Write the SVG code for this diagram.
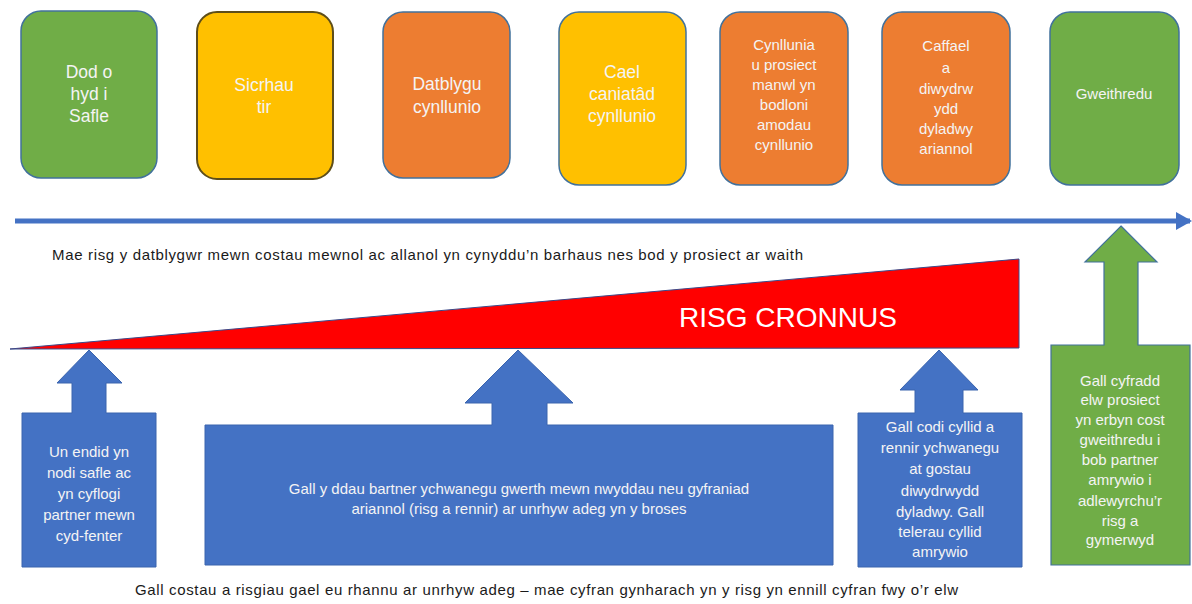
<svg xmlns="http://www.w3.org/2000/svg" width="1192" height="604" viewBox="0 0 1192 604">
<defs>
<style>
.box{stroke:#41719C;stroke-width:1.5}
.g{fill:#70AD47}
.y{fill:#FFC000}
.o{fill:#ED7D31}
.b{fill:#4472C4;stroke:#3A64AE;stroke-width:1}
.gs{fill:#70AD47;stroke:#41719C;stroke-width:1.2}
.t{font-family:"Liberation Sans",Arial,sans-serif;fill:#F4F4F4;text-anchor:middle}
.t17{font-size:17.5px}
.t15{font-size:15px}
.k{font-family:"Liberation Sans",Arial,sans-serif;fill:#1a1a1a;font-size:15px}
</style>
<marker id="ah" markerWidth="16" markerHeight="18" refX="14" refY="9" orient="auto" markerUnits="userSpaceOnUse" viewBox="0 0 16 18">
<path d="M0,0 L16,9 L0,18 z" fill="#4472C4"/>
</marker>
</defs>
<rect width="1192" height="604" fill="#ffffff"/>

<g id="step1">
<rect class="box g" x="21" y="11" width="136" height="167" rx="20"/>
<text class="t t17" x="89" y="78">Dod o</text>
<text class="t t17" x="89" y="100">hyd i</text>
<text class="t t17" x="89" y="122">Safle</text>
</g>
<g id="step2">
<rect class="y" x="197" y="12" width="136" height="167" rx="20" stroke="#5E4E1A" stroke-width="2"/>
<text class="t t17" x="264" y="91">Sicrhau</text>
<text class="t t17" x="264" y="113">tir</text>
</g>
<g id="step3">
<rect class="box o" x="383" y="12" width="127" height="166" rx="20"/>
<text class="t t17" x="447" y="90">Datblygu</text>
<text class="t t17" x="447" y="113">cynllunio</text>
</g>
<g id="step4">
<rect class="box y" x="559" y="12" width="127" height="173" rx="20"/>
<text class="t t17" x="622" y="78">Cael</text>
<text class="t t17" x="622" y="100">caniatâd</text>
<text class="t t17" x="622" y="122">cynllunio</text>
</g>
<g id="step5">
<rect class="box o" x="720" y="12" width="128" height="173" rx="20"/>
<text class="t t15" x="784" y="50">Cynllunia</text>
<text class="t t15" x="784" y="70">u prosiect</text>
<text class="t t15" x="784" y="90">manwl yn</text>
<text class="t t15" x="784" y="110">bodloni</text>
<text class="t t15" x="784" y="130">amodau</text>
<text class="t t15" x="784" y="150">cynllunio</text>
</g>
<g id="step6">
<rect class="box o" x="882" y="12" width="128" height="173" rx="20"/>
<text class="t t15" x="946" y="51">Caffael</text>
<text class="t t15" x="946" y="73">a</text>
<text class="t t15" x="946" y="94">diwydrw</text>
<text class="t t15" x="946" y="114">ydd</text>
<text class="t t15" x="946" y="134">dyladwy</text>
<text class="t t15" x="946" y="154">ariannol</text>
</g>
<g id="step7">
<rect class="box g" x="1050" y="12" width="129" height="173" rx="20"/>
<text class="t t15" x="1114" y="99">Gweithredu</text>
</g>

<g id="connectors">
<line x1="15" y1="221" x2="1190" y2="221" stroke="#4472C4" stroke-width="5" marker-end="url(#ah)"/>
</g>

<g id="risk-wedge">
<polygon points="10,349 1019,259 1019,348" fill="#FF0000" stroke="#3A4A8A" stroke-width="1"/>
<text x="788" y="327" font-family="'Liberation Sans',Arial,sans-serif" font-size="28" fill="#ffffff" text-anchor="middle">RISG CRONNUS</text>
</g>

<g id="caption-top">
<text class="k" x="52" y="260" textLength="751" lengthAdjust="spacing">Mae risg y datblygwr mewn costau mewnol ac allanol yn cynyddu’n barhaus nes bod y prosiect ar waith</text>
</g>

<g id="callout1">
<path class="b" d="M89,350 L122,383 L106,383 L106,413 L156,413 L156,567 L22,567 L22,413 L72,413 L72,383 L57,383 Z"/>
<text class="t t15" x="89" y="457">Un endid yn</text>
<text class="t t15" x="89" y="478">nodi safle ac</text>
<text class="t t15" x="89" y="499">yn cyflogi</text>
<text class="t t15" x="89" y="520">partner mewn</text>
<text class="t t15" x="89" y="541">cyd-fenter</text>
</g>

<g id="callout2">
<path class="b" d="M518,350 L573,403 L547,403 L547,425 L833,425 L833,565 L205,565 L205,425 L492,425 L492,403 L465,403 Z"/>
<text class="t t15" x="519" y="494">Gall y ddau bartner ychwanegu gwerth mewn nwyddau neu gyfraniad</text>
<text class="t t15" x="519" y="514">ariannol (risg a rennir) ar unrhyw adeg yn y broses</text>
</g>

<g id="callout3">
<path class="b" d="M939,350 L978,390 L963,390 L963,413 L1022,413 L1022,567 L858,567 L858,413 L915,413 L915,390 L900,390 Z"/>
<text class="t t15" x="940" y="432">Gall codi cyllid a</text>
<text class="t t15" x="940" y="453">rennir ychwanegu</text>
<text class="t t15" x="940" y="474">at gostau</text>
<text class="t t15" x="940" y="496">diwydrwydd</text>
<text class="t t15" x="940" y="517">dyladwy. Gall</text>
<text class="t t15" x="940" y="537">telerau cyllid</text>
<text class="t t15" x="940" y="557">amrywio</text>
</g>

<g id="callout4">
<path class="gs" d="M1121,226 L1157,262 L1138,262 L1138,345 L1190,345 L1190,565 L1051,565 L1051,345 L1104,345 L1104,262 L1085,262 Z"/>
<text class="t t15" x="1120" y="386">Gall cyfradd</text>
<text class="t t15" x="1120" y="405">elw prosiect</text>
<text class="t t15" x="1120" y="425">yn erbyn cost</text>
<text class="t t15" x="1120" y="445">gweithredu i</text>
<text class="t t15" x="1120" y="465">bob partner</text>
<text class="t t15" x="1120" y="485">amrywio i</text>
<text class="t t15" x="1120" y="506">adlewyrchu’r</text>
<text class="t t15" x="1120" y="526">risg a</text>
<text class="t t15" x="1120" y="545">gymerwyd</text>
</g>

<g id="caption-bottom">
<text class="k" x="135" y="595" textLength="823" lengthAdjust="spacing">Gall costau a risgiau gael eu rhannu ar unrhyw adeg – mae cyfran gynharach yn y risg yn ennill cyfran fwy o’r elw</text>
</g>
</svg>
